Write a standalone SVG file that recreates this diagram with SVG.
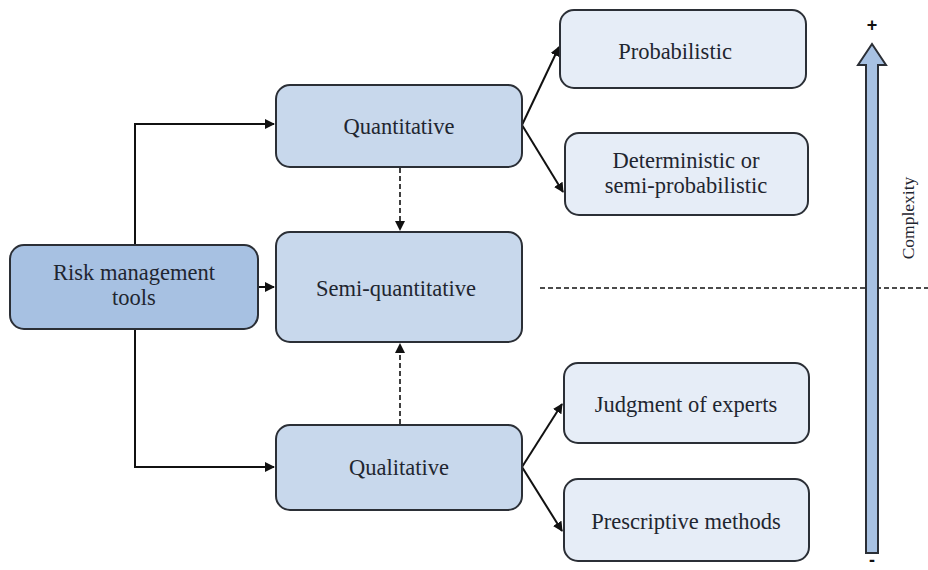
<svg xmlns="http://www.w3.org/2000/svg" width="928" height="570" viewBox="0 0 928 570">
<style>
.box{stroke:#2b2f36;stroke-width:2}
.l1{fill:#a7c1e2}
.l2{fill:#c8d8ec}
.l3{fill:#e6edf7}
.t{font-family:"Liberation Serif","Times New Roman","DejaVu Serif",serif;font-size:22.5px;fill:#1f2630;text-anchor:middle}
.s{font-family:"Liberation Sans",Arial,sans-serif;font-weight:bold;font-size:18px;fill:#111;text-anchor:middle}
.c{fill:none;stroke:#111;stroke-width:2}
.d{fill:none;stroke:#111;stroke-width:1.6;stroke-dasharray:5,3}
</style>
<defs>
<marker id="ah" markerWidth="10" markerHeight="10" refX="9" refY="5" orient="auto" markerUnits="userSpaceOnUse">
<path d="M0,0 L10,5 L0,10 z" fill="#111"/>
</marker>
</defs>
<rect width="928" height="570" fill="#ffffff"/>
<g id="connectors">
<path class="c" d="M135,244 V124 H274" marker-end="url(#ah)"/>
<path class="c" d="M135,329 V467 H274" marker-end="url(#ah)"/>
<path class="c" d="M258,287 H274" marker-end="url(#ah)"/>
<path class="d" d="M400,168 V230" marker-end="url(#ah)"/>
<path class="d" d="M400,424 V344" marker-end="url(#ah)"/>
<path class="c" d="M522,125 L559,47" marker-end="url(#ah)"/>
<path class="c" d="M522,125 L563,192" marker-end="url(#ah)"/>
<path class="c" d="M522,467 L562,404" marker-end="url(#ah)"/>
<path class="c" d="M522,467 L562,531" marker-end="url(#ah)"/>
<path class="d" d="M540,288 H928" stroke-width="1.4"/>
</g>
<g id="risk">
<rect class="box l1" x="10" y="245" width="248" height="84" rx="14"/>
<text class="t" x="134" y="280">Risk management</text>
<text class="t" x="134" y="305">tools</text>
</g>
<g id="quantitative">
<rect class="box l2" x="276" y="85" width="246" height="82" rx="14"/>
<text class="t" x="399" y="134">Quantitative</text>
</g>
<g id="semi">
<rect class="box l2" x="276" y="232" width="246" height="110" rx="14"/>
<text class="t" x="396" y="296">Semi-quantitative</text>
</g>
<g id="qualitative">
<rect class="box l2" x="276" y="425" width="246" height="85" rx="14"/>
<text class="t" x="399" y="475">Qualitative</text>
</g>
<g id="probabilistic">
<rect class="box l3" x="560" y="10" width="246" height="78" rx="14"/>
<text class="t" x="675" y="59">Probabilistic</text>
</g>
<g id="deterministic">
<rect class="box l3" x="565" y="133" width="243" height="82" rx="14"/>
<text class="t" x="686" y="168">Deterministic or</text>
<text class="t" x="686" y="193">semi-probabilistic</text>
</g>
<g id="judgment">
<rect class="box l3" x="564" y="363" width="245" height="80" rx="14"/>
<text class="t" x="686" y="412">Judgment of experts</text>
</g>
<g id="prescriptive">
<rect class="box l3" x="564" y="479" width="245" height="82" rx="14"/>
<text class="t" x="686" y="529">Prescriptive methods</text>
</g>
<g id="complexity">
<path d="M866,553 V65 H858 L872,44 L886,65 H878 V553 Z" fill="#a7c1e2" stroke="#2b2f36" stroke-width="2"/>
<text class="s" x="872" y="31">+</text>
<text class="s" x="872" y="566">-</text>
<text class="t" transform="translate(914,218) rotate(-90)" style="font-size:17.5px">Complexity</text>
</g>
</svg>
